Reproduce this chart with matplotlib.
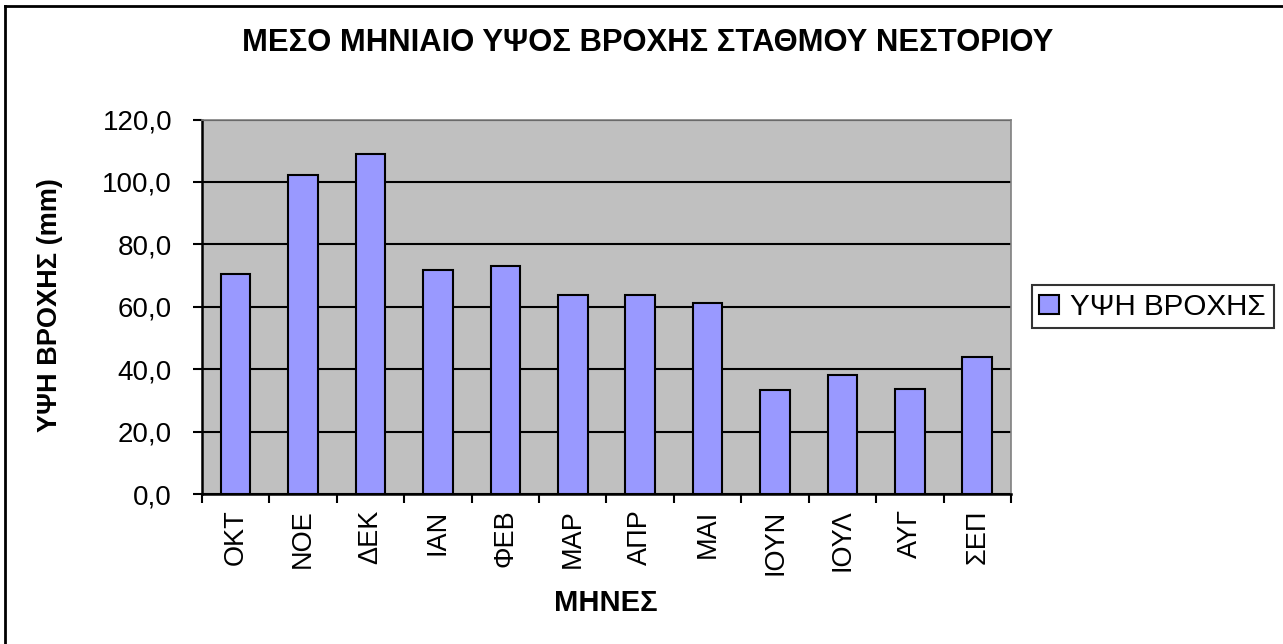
import matplotlib
matplotlib.use("Agg")
import matplotlib.pyplot as plt
from matplotlib.lines import Line2D
from matplotlib.ticker import FixedLocator, FuncFormatter

plt.rcParams['font.family'] = ['Liberation Sans', 'DejaVu Sans']

# μέσο μηνιαίο ύψος βροχής (mm)
months = ['ΟΚΤ', 'ΝΟΕ', 'ΔΕΚ', 'ΙΑΝ', 'ΦΕΒ', 'ΜΑΡ', 'ΑΠΡ', 'ΜΑΙ', 'ΙΟΥΝ', 'ΙΟΥΛ', 'ΑΥΓ', 'ΣΕΠ']
rain = [70.4, 102.1, 109.1, 71.9, 73.2, 63.9, 63.9, 61.2, 33.2, 38.0, 33.8, 43.9]
yticks = [0, 20, 40, 60, 80, 100, 120]

fig = plt.figure(figsize=(12.83, 6.44), dpi=100)
ax = fig.add_axes([0.1574, 0.2329, 0.6306, 0.5815])
ax.set_facecolor('#C0C0C0')

x = range(len(months))
ax.bar(x, rain, width=0.44, color='#9999FF', edgecolor='black', linewidth=1.5,
       label='ΥΨΗ ΒΡΟΧΗΣ', zorder=3)

ax.set_xlim(-0.5, len(months) - 0.5)
ax.set_ylim(0, 120)
ax.set_yticks(yticks)
ax.yaxis.set_major_formatter(FuncFormatter(lambda v, p: f"{v:.1f}".replace('.', ',')))
ax.grid(axis='y', color='black', linewidth=1.5, zorder=1)

ax.set_xticks(list(x))
ax.set_xticklabels(months, rotation=90)
ax.xaxis.set_minor_locator(FixedLocator([i - 0.5 for i in range(len(months) + 1)]))
ax.tick_params(axis='x', which='major', length=0, pad=11, labelsize=19.5)
ax.tick_params(axis='x', which='minor', length=6.5, width=1.5, direction='out')
ax.tick_params(axis='y', length=6.5, width=1.5, direction='out', pad=15, labelsize=20)

for s in ['top', 'right']:
    ax.spines[s].set_color('#808080')
    ax.spines[s].set_linewidth(1.2)
for s in ['left', 'bottom']:
    ax.spines[s].set_color('black')
    ax.spines[s].set_linewidth(1.8)

fig.text(606 / 1283, 1 - 603 / 644, 'ΜΗΝΕΣ', ha='center', va='center',
         fontsize=21, fontweight='bold')
fig.text(50 / 1283, 1 - 305 / 644, 'ΥΨΗ ΒΡΟΧΗΣ (mm)', ha='center', va='center',
         rotation=90, fontsize=19.5, fontweight='bold')
fig.text(0.505, 1 - 43 / 644, 'ΜΕΣΟ ΜΗΝΙΑΙΟ ΥΨΟΣ ΒΡΟΧΗΣ ΣΤΑΘΜΟΥ ΝΕΣΤΟΡΙΟΥ',
         ha='center', va='center', fontsize=22.3, fontweight='bold')

leg = ax.legend(loc='center left', bbox_to_anchor=(1.026, 0.5), fontsize=21.3,
                frameon=True, fancybox=False, edgecolor='black', handlelength=0.65,
                handleheight=0.65, handletextpad=0.4, borderpad=0.25, borderaxespad=0)
leg.get_frame().set_linewidth(1.5)

fig.add_artist(Line2D([0.004, 1.0], [0.9907, 0.9907], color='black', linewidth=2, transform=fig.transFigure))
fig.add_artist(Line2D([0.004, 0.004], [0.0, 0.9907], color='black', linewidth=2, transform=fig.transFigure))

fig.savefig('out.png', dpi=100)
